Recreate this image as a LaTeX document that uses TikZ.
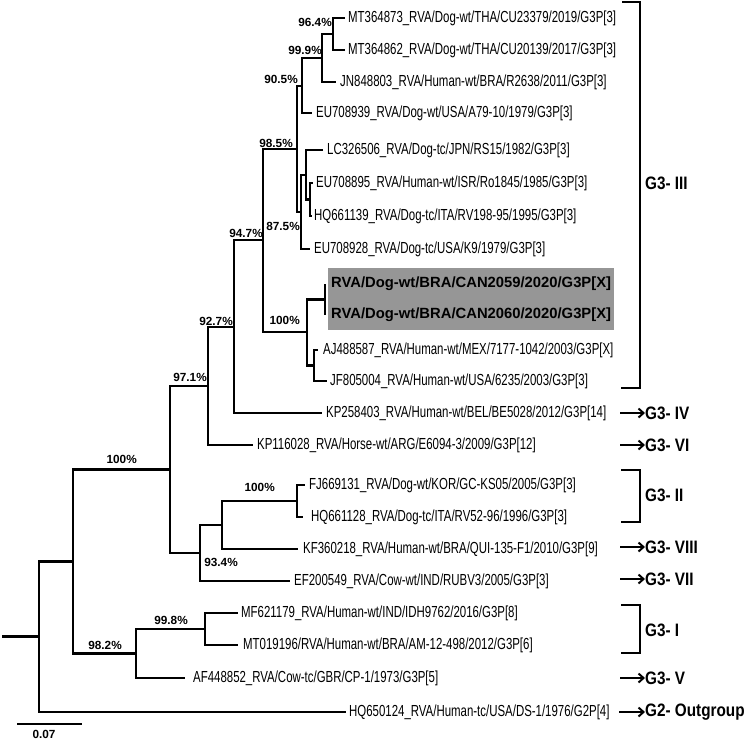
\documentclass[tikz,border=0pt]{standalone}
\usepackage{fontspec}
\setmainfont{Liberation Sans}
\newfontfamily\leaffont{Liberation Sans}[FakeStretch=0.715]
\newfontfamily\cladefont{Liberation Sans}[FakeStretch=0.85]
\usetikzlibrary{arrows.meta}
\definecolor{hlgray}{RGB}{150,150,150}
\begin{document}
\begin{tikzpicture}[x=1pt,y=-1pt,
  edge/.style={line width=2.9pt},
  leaf/.style={anchor=west, inner sep=0pt, font=\leaffont\fontsize{16}{19}\selectfont},
  hl/.style={anchor=west, inner sep=0pt, font=\bfseries\fontsize{14.8}{17}\selectfont},
  boot/.style={anchor=east, inner sep=0pt, font=\bfseries\fontsize{11.8}{13}\selectfont},
  clade/.style={anchor=west, inner sep=0pt, font=\cladefont\bfseries\fontsize{18}{20}\selectfont},
  bracket/.style={line width=2.4pt},
  cladearrow/.style={line width=2pt, -{Straight Barb[length=5pt,width=9pt]}}]
\useasboundingbox (0,0) rectangle (749,740);

% highlight box
\node[fill=hlgray, inner sep=0pt, minimum width=286pt, minimum height=62pt] (hlbox) at (471,299) {};

% internal nodes
\coordinate (n964) at (333,34);
\coordinate (n999) at (322,58);
\coordinate (n905) at (302,86);
\coordinate (nC) at (310,199.5);
\coordinate (nB) at (306,175);
\coordinate (n875) at (301,212);
\coordinate (n985) at (297,149);
\coordinate (nCAN) at (325,299.5);
\coordinate (nAJ) at (314,365.5);
\coordinate (n100a) at (307,332);
\coordinate (n947) at (263,240);
\coordinate (n927) at (234,327);
\coordinate (n971) at (208,386);
\coordinate (n100b) at (297,501);
\coordinate (nII) at (222,525);
\coordinate (n934) at (200,553);
\coordinate (n100) at (170,469.5);
\coordinate (n998) at (205,629);
\coordinate (n982) at (136,653.5);
\coordinate (nIn) at (73,561.5);
\coordinate (root) at (39,636.5);
\coordinate (stub) at (2,636.5);

% leaf tips
\coordinate (t1) at (345,18);
\coordinate (t2) at (345,50);
\coordinate (t3) at (336,82);
\coordinate (t4) at (312,113);
\coordinate (t5) at (323,150);
\coordinate (t6) at (313,183);
\coordinate (t7) at (312,216);
\coordinate (t8) at (310,249);
\coordinate (t9) at (325,284);
\coordinate (t10) at (325,315);
\coordinate (t11) at (318,350);
\coordinate (t12) at (327,381);
\coordinate (t13) at (322,413);
\coordinate (t14) at (253,445);
\coordinate (t15) at (305,485);
\coordinate (t16) at (303,517);
\coordinate (t17) at (298,549);
\coordinate (t18) at (290,581);
\coordinate (t19) at (238,613);
\coordinate (t20) at (238,645);
\coordinate (t21) at (185,678);
\coordinate (t22) at (346,712);

% edges
\draw[edge] (n964) |- (t1);
\draw[edge] (n964) |- (t2);
\draw[edge] (n999) |- (n964);
\draw[edge] (n999) |- (t3);
\draw[edge] (n905) |- (n999);
\draw[edge] (n905) |- (t4);
\draw[edge] (nC) |- (t6);
\draw[edge] (nC) |- (t7);
\draw[edge] (nB) |- (t5);
\draw[edge] (nB) |- (nC);
\draw[edge] (n875) |- (nB);
\draw[edge] (n875) |- (t8);
\draw[edge] (n985) |- (n905);
\draw[edge] (n985) |- (n875);
\draw[edge] (nCAN) |- (t9);
\draw[edge] (nCAN) |- (t10);
\draw[edge] (nAJ) |- (t11);
\draw[edge] (nAJ) |- (t12);
\draw[edge] (n100a) |- (nCAN);
\draw[edge] (n100a) |- (nAJ);
\draw[edge] (n947) |- (n985);
\draw[edge] (n947) |- (n100a);
\draw[edge] (n927) |- (n947);
\draw[edge] (n927) |- (t13);
\draw[edge] (n971) |- (n927);
\draw[edge] (n971) |- (t14);
\draw[edge] (n100b) |- (t15);
\draw[edge] (n100b) |- (t16);
\draw[edge] (nII) |- (n100b);
\draw[edge] (nII) |- (t17);
\draw[edge] (n934) |- (nII);
\draw[edge] (n934) |- (t18);
\draw[edge] (n100) |- (n971);
\draw[edge] (n100) |- (n934);
\draw[edge] (n998) |- (t19);
\draw[edge] (n998) |- (t20);
\draw[edge] (n982) |- (n998);
\draw[edge] (n982) |- (t21);
\draw[edge] (nIn) |- (n100);
\draw[edge] (nIn) |- (n982);
\draw[edge] (root) |- (nIn);
\draw[edge] (root) |- (t22);
\draw[edge] (stub) -- (root);

% leaf labels
\node[leaf] (l1) at (348,18) {MT364873\_RVA/Dog-wt/THA/CU23379/2019/G3P[3]};
\node[leaf] (l2) at (348,50) {MT364862\_RVA/Dog-wt/THA/CU20139/2017/G3P[3]};
\node[leaf] (l3) at (340,82) {JN848803\_RVA/Human-wt/BRA/R2638/2011/G3P[3]};
\node[leaf] (l4) at (316,113) {EU708939\_RVA/Dog-wt/USA/A79-10/1979/G3P[3]};
\node[leaf] (l5) at (327,150) {LC326506\_RVA/Dog-tc/JPN/RS15/1982/G3P[3]};
\node[leaf] (l6) at (316,183) {EU708895\_RVA/Human-wt/ISR/Ro1845/1985/G3P[3]};
\node[leaf] (l7) at (314,216) {HQ661139\_RVA/Dog-tc/ITA/RV198-95/1995/G3P[3]};
\node[leaf] (l8) at (314,249) {EU708928\_RVA/Dog-tc/USA/K9/1979/G3P[3]};
\node[hl] (l9) at (331,284) {RVA/Dog-wt/BRA/CAN2059/2020/G3P[X]};
\node[hl] (l10) at (331,315) {RVA/Dog-wt/BRA/CAN2060/2020/G3P[X]};
\node[leaf] (l11) at (323,350) {AJ488587\_RVA/Human-wt/MEX/7177-1042/2003/G3P[X]};
\node[leaf] (l12) at (330,381) {JF805004\_RVA/Human-wt/USA/6235/2003/G3P[3]};
\node[leaf] (l13) at (326,413) {KP258403\_RVA/Human-wt/BEL/BE5028/2012/G3P[14]};
\node[leaf] (l14) at (257,445) {KP116028\_RVA/Horse-wt/ARG/E6094-3/2009/G3P[12]};
\node[leaf] (l15) at (309,485) {FJ669131\_RVA/Dog-wt/KOR/GC-KS05/2005/G3P[3]};
\node[leaf] (l16) at (311,517) {HQ661128\_RVA/Dog-tc/ITA/RV52-96/1996/G3P[3]};
\node[leaf] (l17) at (303,549) {KF360218\_RVA/Human-wt/BRA/QUI-135-F1/2010/G3P[9]};
\node[leaf] (l18) at (294,581) {EF200549\_RVA/Cow-wt/IND/RUBV3/2005/G3P[3]};
\node[leaf] (l19) at (241,613) {MF621179\_RVA/Human-wt/IND/IDH9762/2016/G3P[8]};
\node[leaf] (l20) at (243,645) {MT019196/RVA/Human-wt/BRA/AM-12-498/2012/G3P[6]};
\node[leaf] (l21) at (193,678) {AF448852\_RVA/Cow-tc/GBR/CP-1/1973/G3P[5]};
\node[leaf] (l22) at (349,712) {HQ650124\_RVA/Human-tc/USA/DS-1/1976/G2P[4]};

% bootstrap values
\node[boot] (b964) at (332,22) {96.4\%};
\node[boot] (b999) at (322,50) {99.9\%};
\node[boot] (b905) at (298,79) {90.5\%};
\node[boot] (b985) at (293,143) {98.5\%};
\node[boot] (b875) at (300,226) {87.5\%};
\node[boot] (b947) at (263,233) {94.7\%};
\node[boot] (b100a) at (300,320) {100\%};
\node[boot] (b927) at (233,321) {92.7\%};
\node[boot] (b971) at (207,377) {97.1\%};
\node[boot] (b100) at (137,459) {100\%};
\node[boot] (b100b) at (275,487) {100\%};
\node[boot] (b934) at (238,562) {93.4\%};
\node[boot] (b982) at (122,645) {98.2\%};
\node[boot] (b998) at (188,620) {99.8\%};

% clade labels
\node[clade] (cIII) at (645,183) {G3- III};
\node[clade] (cIV) at (645,413) {G3- IV};
\node[clade] (cVI) at (645,445) {G3- VI};
\node[clade] (cII) at (645,495) {G3- II};
\node[clade] (cVIII) at (645,547) {G3- VIII};
\node[clade] (cVII) at (645,579) {G3- VII};
\node[clade] (cI) at (645,630) {G3- I};
\node[clade] (cV) at (645,678) {G3- V};
\node[clade] (cG2) at (645,712) {G2- Outgroup};

% brackets
\coordinate (kIIIa) at (622,2);
\coordinate (kIIIb) at (621,388);
\coordinate (kIIa) at (621,470);
\coordinate (kIIb) at (621,522);
\coordinate (kIa) at (621,605);
\coordinate (kIb) at (621,653);
\draw[bracket] (kIIIa) -- (640,2) |- (kIIIb);
\draw[bracket] (kIIa) -- (640,470) |- (kIIb);
\draw[bracket] (kIa) -- (640,605) |- (kIb);

% arrows
\coordinate (aIV) at (620,413);
\coordinate (aVI) at (620,445);
\coordinate (aVIII) at (620,547);
\coordinate (aVII) at (620,579);
\coordinate (aV) at (620,678);
\coordinate (aG2) at (619,712);
\draw[cladearrow] (aIV) -- (cIV.west);
\draw[cladearrow] (aVI) -- (cVI.west);
\draw[cladearrow] (aVIII) -- (cVIII.west);
\draw[cladearrow] (aVII) -- (cVII.west);
\draw[cladearrow] (aV) -- (cV.west);
\draw[cladearrow] (aG2) -- (cG2.west);

% scale bar
\coordinate (sb1) at (17,724);
\coordinate (sb2) at (82,724);
\draw[line width=2pt] (sb1) -- (sb2);
\node[boot, anchor=center] (sbl) at (44,734) {0.07};
\end{tikzpicture}
\end{document}
